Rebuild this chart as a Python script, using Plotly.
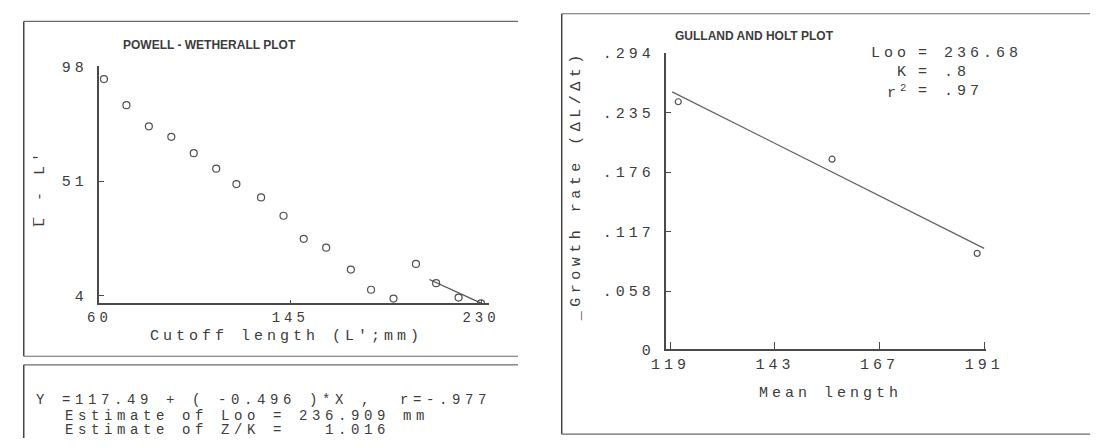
import plotly.graph_objects as go

W, H = 1107, 448

# ---------------- data ----------------
# Powell - Wetherall plot
cutoff_len = [62, 72, 82, 92, 102, 112, 121, 132, 142, 151, 161, 172, 181, 191, 201, 210, 220, 230]
mean_minus_cutoff = [92.9, 82.2, 73.5, 69.2, 62.5, 56.1, 49.8, 44.3, 36.8, 27.3, 23.7, 14.7, 6.4, 2.8,
                     17.0, 9.1, 3.2, 0.8]
pw_fit_x = [207, 230]
pw_fit_y = [10.6, 0.9]
pw_xticks = [60, 145, 230]
pw_yticks = [4, 51, 98]

# Gulland and Holt plot
mean_len = [120.8, 156.1, 189.4]
growth_rate = [0.2458, 0.1888, 0.0954]
gh_fit_x = [119.4, 191]
gh_fit_y = [0.2556, 0.1003]
gh_xticks = [119, 143, 167, 191]
gh_yticks = [0, 0.058, 0.117, 0.176, 0.235, 0.294]
gh_yticklabels = ["0", ".058", ".117", ".176", ".235", ".294"]

pw_lines = ["Y =117.49 + ( -0.496 )*X ,  r=-.977",
            "Estimate of Loo = 236.909 mm",
            "Estimate of Z/K =   1.016"]
gh_stats = [("Loo", "= 236.68"), ("K", "= .8"), ("r<sup>2</sup>", "= .97")]

# ---------------- style ----------------
INK = "#3c3c3c"
LINE = "#4a4a4a"
MONO = "Liberation Mono, Courier New, monospace"
SANS = "Liberation Sans, Arial, sans-serif"
LS = "4px"


def sp(t, ls=LS):
    return f'<span style="letter-spacing:{ls}">{t}</span>'


def px_x(p):
    return p / W


def px_y(p):
    return 1 - p / H


fig = go.Figure()

fig.add_trace(go.Scatter(x=cutoff_len, y=mean_minus_cutoff, mode="markers",
                         marker=dict(symbol="circle-open", size=7, color="#505050", line=dict(width=1.2)),
                         xaxis="x", yaxis="y", showlegend=False))
fig.add_trace(go.Scatter(x=pw_fit_x, y=pw_fit_y, mode="lines",
                         line=dict(color="#505050", width=1.2), xaxis="x", yaxis="y", showlegend=False))

fig.add_trace(go.Scatter(x=mean_len, y=growth_rate, mode="markers",
                         marker=dict(symbol="circle-open", size=6, color="#505050", line=dict(width=1.2)),
                         xaxis="x2", yaxis="y2", showlegend=False))
fig.add_trace(go.Scatter(x=gh_fit_x, y=gh_fit_y, mode="lines",
                         line=dict(color="#606060", width=1.2), xaxis="x2", yaxis="y2", showlegend=False))

axis_common = dict(showline=True, linecolor=LINE, linewidth=1.5, ticks="inside", tickcolor=LINE,
                   showgrid=False, zeroline=False, fixedrange=True,
                   tickfont=dict(family=MONO, size=15, color=INK))

fig.update_layout(
    width=W, height=H, margin=dict(l=0, r=0, t=0, b=0),
    paper_bgcolor="white", plot_bgcolor="white",
    xaxis=dict(axis_common, domain=[px_x(86), px_x(488)], range=[59.57, 233.5],
               tickvals=pw_xticks, ticktext=[sp(str(v)) for v in pw_xticks], ticklen=4,
               tickfont=dict(family=MONO, size=14, color=INK),
               anchor="y", ticklabelstandoff=0),
    yaxis=dict(axis_common, domain=[px_y(308), px_y(61)], range=[0.84, 98.4],
               tickvals=pw_yticks, ticktext=[sp(str(v)) for v in pw_yticks], ticklen=6,
               anchor="x", ticklabelstandoff=6),
    xaxis2=dict(axis_common, domain=[px_x(670), px_x(1000)], range=[117.9, 191.45],
                tickvals=gh_xticks, ticktext=[sp(str(v)) for v in gh_xticks], ticklen=8,
                anchor="y2", ticklabelstandoff=0),
    yaxis2=dict(axis_common, domain=[px_y(356), px_y(48)], range=[0, 0.294],
                tickvals=gh_yticks, ticktext=[sp(t) for t in gh_yticklabels], ticklen=6,
                anchor="x2", ticklabelstandoff=6),
)

ann = []


def add_text(x, y, text, size=15, family=MONO, xanchor="left", yanchor="middle", angle=0, bold=False):
    ann.append(dict(x=px_x(x), y=px_y(y), xref="paper", yref="paper", text=text, showarrow=False,
                    xanchor=xanchor, yanchor=yanchor, textangle=angle,
                    font=dict(family=family, size=size, color=INK, weight="bold" if bold else "normal")))


# titles
add_text(200, 39, "POWELL - WETHERALL PLOT", size=12, family=SANS, xanchor="center", bold=True)
add_text(762, 30, "GULLAND AND HOLT PLOT", size=12, family=SANS, xanchor="center", bold=True)

# axis titles
add_text(280, 342, sp("Cutoff length (L';mm)"), xanchor="center")
add_text(27, 188, sp("L\u0305 - L'"), xanchor="center", angle=-90)
add_text(840, 402, sp("Mean length"), xanchor="center")
add_text(579, 186, sp("_Growth rate (\u0394L/\u0394t)", "4.5px"), xanchor="center", angle=-90)

# Gulland-Holt stats
for i, (lab, val) in enumerate(gh_stats):
    yy = 48 + i * 20
    add_text(924, yy, sp(lab), xanchor="right")
    add_text(928, yy, sp(val), xanchor="left")

# Powell-Wetherall regression text
add_text(20, 409, sp(pw_lines[0], "4.6px"), size=14)
add_text(49, 425, sp(pw_lines[1], "4.6px"), size=14)
add_text(49, 440, sp(pw_lines[2], "4.6px"), size=14)

fig.update_layout(annotations=ann)

# panel borders
shapes = []


def seg(x0, y0, x1, y1, w=1.2, color="#6a6a6a"):
    shapes.append(dict(type="line", xref="paper", yref="paper",
                       x0=px_x(x0), y0=px_y(y0), x1=px_x(x1), y1=px_y(y1),
                       line=dict(color=color, width=w)))


seg(9, 15, 518, 15)
seg(9, 15, 9, 363, color="#444444", w=1.5)
seg(9, 363, 518, 363)
seg(9, 372, 518, 372)
seg(9, 372, 9, 448, color="#444444", w=1.5)
seg(563, 7, 1107, 7)
seg(563, 7, 563, 444, color="#444444", w=1.5)
seg(563, 444, 1107, 444)
fig.update_layout(shapes=shapes)

fig.write_html("out.html", config={"displayModeBar": False},
               post_script="document.body.style.margin='0';document.body.style.overflow='hidden';")
